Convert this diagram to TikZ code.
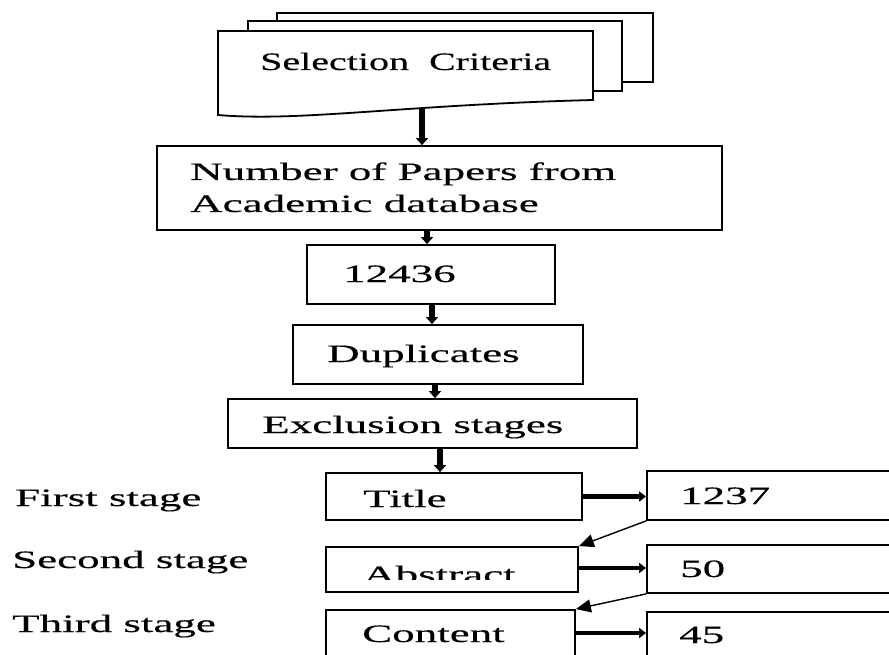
\documentclass[tikz,border=0pt]{standalone}
\usepackage{fontspec}
\setmainfont{Liberation Serif}[FakeStretch=1.8,FakeBold=0.35]
\newfontfamily\selfont{Liberation Serif}[FakeStretch=1.6,FakeBold=0.35]
\usetikzlibrary{arrows.meta}
\begin{document}
\begin{tikzpicture}[x=1pt,y=-1pt,
  box/.style={draw=black,line width=1.8pt,rectangle,inner sep=0pt,fill=white},
  page/.style={draw=black,line width=1.8pt,fill=white},
  txt/.style={anchor=base west,inner sep=0pt,font=\fontsize{25}{30}\selectfont},
  bigarrow/.style={line width=6pt,-{Triangle[length=7pt,width=12pt]}},
  sidearrow/.style={line width=4.5pt,-{Triangle[length=7pt,width=10pt]}},
  thinarrow/.style={line width=1.4pt,-{Triangle[length=15pt,width=13pt]}}]
\useasboundingbox (0,0) rectangle (889,655);
\begin{scope}
\clip (0,0) rectangle (889,655);
% stacked pages of the document shape
\draw[page] (277,13) rectangle (653,82);
\draw[page] (248,21) rectangle (622,91);
\draw[page] (218,31) -- (593,31) -- (593,100) .. controls (400,105) and (300,122) .. (218,115) -- cycle;
\coordinate (doc) at (422,108);
\node[txt,font=\selfont\fontsize{25}{30}\selectfont] (tsel) at (260,70) {Selection\ \ Criteria};

% boxes
\node[box,minimum width=565pt,minimum height=84pt] (num) at (439.5,188) {};
\node[box,minimum width=248pt,minimum height=59pt] (n12436) at (431,274.5) {};
\node[box,minimum width=290pt,minimum height=59pt] (dup) at (438,354.5) {};
\node[box,minimum width=409pt,minimum height=49pt] (excl) at (432.5,423.5) {};
\node[box,minimum width=256pt,minimum height=47pt] (title) at (454,496.5) {};
\node[box,minimum width=260pt,minimum height=49pt] (c1237) at (777,495.5) {};
\node[box,minimum width=252pt,minimum height=45pt] (abs) at (452,569.5) {};
\node[box,minimum width=260pt,minimum height=48pt] (c50) at (777,569) {};
\node[box,minimum width=249pt,minimum height=70pt] (cont) at (450.5,645) {};
\node[box,minimum width=260pt,minimum height=68pt] (c45) at (777,646) {};

% texts
\node[txt] (t1) at (190,180) {Number of Papers from};
\node[txt] (t2) at (190,212) {Academic database};
\node[txt] (t3) at (343,282) {12436};
\node[txt] (t4) at (327,362) {Duplicates};
\node[txt] (t5) at (262,433) {Exclusion stages};
\node[txt] (t6) at (363,507) {Title};
\node[txt] (t7) at (680,504) {1237};
\begin{scope}
\clip (330,550) rectangle (575,579);
\node[txt] (t8) at (363,583) {Abstract};
\end{scope}
\node[txt] (t9) at (680,577) {50};
\node[txt] (t10) at (362,642) {Content};
\node[txt] (t11) at (679,643) {45};
\node[txt] (s1) at (15,506) {First stage};
\node[txt] (s2) at (12,568) {Second stage};
\node[txt] (s3) at (12,632) {Third stage};

% connectors
\draw[bigarrow] (doc) -- (num.north -| doc);
\draw[bigarrow] (num.south -| 427,0) -- (n12436.north -| 427,0);
\draw[bigarrow] (n12436.south -| 432,0) -- (dup.north -| 432,0);
\draw[bigarrow] (dup.south -| 435,0) -- (excl.north -| 435,0);
\draw[bigarrow] (excl.south -| 440,0) -- (title.north -| 440,0);
\draw[sidearrow] (title.east) -- (c1237.west |- title.east);
\draw[sidearrow] (abs.east |- 0,568) -- (c50.west |- 0,568);
\draw[sidearrow] (cont.east |- 0,633) -- (c45.west |- 0,633);
\draw[thinarrow] (c1237.south west) -- (abs.north east);
\draw[thinarrow] (c50.south west) -- (cont.north east);
\end{scope}
\end{tikzpicture}
\end{document}
